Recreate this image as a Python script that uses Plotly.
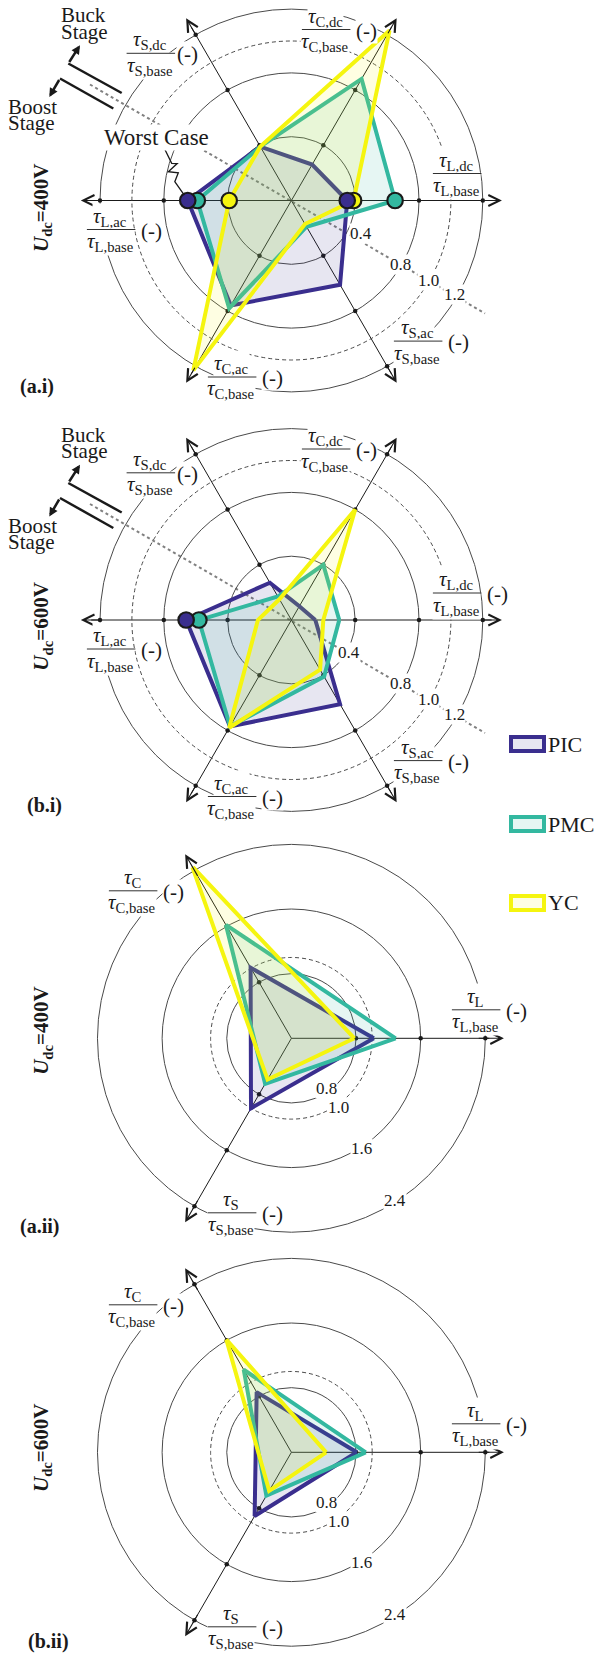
import numpy as np
import plotly.graph_objects as go

W, H = 597, 1654
FONT = "Liberation Serif, Times New Roman, serif"
INK = "#1a1a1a"

# ---------------- data ----------------
HEX_AXES = ["L,dc", "C,dc", "S,dc", "L,ac", "C,ac", "S,ac"]
TRI_AXES = ["L", "C", "S"]
SERIES = ["PIC", "PMC", "YC"]
LINE_COLORS = ["#3a2e8e", "#33b8a0", "#f5f50f"]

A_I_PIC = [0.35, 0.26, 0.39, 0.65, 0.76, 0.61]
A_I_PMC = [0.65, 0.88, 0.39, 0.59, 0.78, 0.19]
A_I_YC = [0.39, 1.23, 0.39, 0.39, 1.23, 0.17]

B_I_PIC = [0.15, 0.10, 0.27, 0.66, 0.77, 0.61]
B_I_PMC = [0.30, 0.40, 0.17, 0.58, 0.77, 0.41]
B_I_YC = [0.20, 0.80, 0.15, 0.21, 0.78, 0.36]

A_II_PIC = [1.02, 1.01, 1.00]
A_II_PMC = [1.29, 1.62, 0.65]
A_II_YC = [0.78, 2.46, 0.59]

B_II_PIC = [0.81, 0.86, 0.91]
B_II_PMC = [0.92, 1.18, 0.62]
B_II_YC = [0.43, 1.61, 0.55]

HEX_GRID = [0.4, 0.8, 1.2]
TRI_GRID = [0.8, 1.6, 2.4]
DASHED_GRID = [1.0]
HEX_RING_LABELS = ["0.4", "0.8", "1.0", "1.2"]
TRI_RING_LABELS = ["0.8", "1.0", "1.6", "2.4"]

A_I_MARKED = [("YC", ["L,dc", "L,ac"]), ("PMC", ["L,dc", "L,ac"]), ("PIC", ["L,dc", "L,ac"])]
B_I_MARKED = [("PMC", ["L,ac"]), ("PIC", ["L,ac"])]

# ---------------- layout helpers ----------------
HEX_LABEL_POS = {"L,dc": (165, -27), "C,dc": (34, -171), "S,dc": (-141.3, -147.2),
                 "L,ac": (-181, 29), "C,ac": (-60, 176.5), "S,ac": (126, 140.6)}
TRI_LABEL_POS = {"L": (184, -28.5), "C": (-159, -147.5), "S": (-60, 174.5)}

CHARTS = [
    dict(kind="hex", c=(291.4, 200.5), s=159.5, rmax=1.255, rtip=1.32, rtail=1.2,
         vals=[A_I_PIC, A_I_PMC, A_I_YC], marked=A_I_MARKED, volt="400V", vy=208,
         panel="(a.i)", px=19, py=386.7, ldc_unit=False,
         ring_pos=[(69.2, 33), (109, 63.5), (136.6, 79.8), (163.3, 94)], worst=True),
    dict(kind="hex", c=(291.4, 620.0), s=159.5, rmax=1.255, rtip=1.32, rtail=1.2,
         vals=[B_I_PIC, B_I_PMC, B_I_YC], marked=B_I_MARKED, volt="600V", vy=626.7,
         panel="(b.i)", px=26, py=805, ldc_unit=True,
         ring_pos=[(57.6, 32.7), (109, 63.5), (136.6, 79.8), (163.3, 94)], worst=False),
    dict(kind="tri", c=(291.4, 1038.3), s=80.8, rmax=2.45, rtip=2.63, rtail=2.3,
         vals=[A_II_PIC, A_II_PMC, A_II_YC], marked=[], volt="400V", vy=1030.8,
         panel="(a.ii)", px=19, py=1226.7,
         ring_pos=[(35.2, 49.7), (46.6, 69.3), (69.6, 109.7), (104, 161.7)], worst=False),
    dict(kind="tri", c=(291.4, 1452.3), s=80.8, rmax=2.45, rtip=2.63, rtail=2.3,
         vals=[B_II_PIC, B_II_PMC, B_II_YC], marked=[], volt="600V", vy=1448,
         panel="(b.ii)", px=27, py=1641.7,
         ring_pos=[(35.2, 49.7), (46.6, 69.3), (69.6, 109.7), (104, 161.7)], worst=False),
]

annotations = []
shapes = []


def P(x, y):
    return x / W, 1 - y / H


def text(x, y, s, size=20, xanchor="center", yanchor="middle", bg=None, angle=0):
    px_, py_ = P(x, y)
    a = dict(x=px_, y=py_, xref="paper", yref="paper", text=s, showarrow=False,
             font=dict(family=FONT, size=size, color=INK), xanchor=xanchor,
             yanchor=yanchor, textangle=angle, borderpad=0)
    if bg:
        a["bgcolor"] = bg
    annotations.append(a)


def arrow(tipx, tipy, tailx, taily, head=5, size=2.0, width=1.1):
    px_, py_ = P(tipx, tipy)
    annotations.append(dict(x=px_, y=py_, xref="paper", yref="paper",
                            ax=tailx - tipx, ay=taily - tipy, axref="pixel", ayref="pixel",
                            showarrow=True, arrowhead=head, arrowsize=size, arrowwidth=width,
                            arrowcolor=INK, text="", standoff=0, startstandoff=0))


def seg(x0, y0, x1, y1, width=1.0, color=INK, dash=None, layer="above"):
    a0, b0 = P(x0, y0)
    a1, b1 = P(x1, y1)
    d = dict(type="line", xref="paper", yref="paper", x0=a0, y0=b0, x1=a1, y1=b1,
             line=dict(color=color, width=width), layer=layer)
    if dash:
        d["line"]["dash"] = dash
    shapes.append(d)


def frac(cx, cy, num, den, unit=True, unit_dx=41):
    text(cx, cy - 13, num, size=21, bg="white")
    text(cx, cy + 12.5, den, size=21, bg="white")
    if unit:
        text(cx + unit_dx, cy + 1, "(-)", size=21, bg="white")
    arrow(cx + 25, cy, cx - 25, cy, head=0, width=0.9)


def rgba(hexcol, a):
    h = hexcol.lstrip("#")
    r, g, b = int(h[0:2], 16), int(h[2:4], 16), int(h[4:6], 16)
    return f"rgba({r},{g},{b},{a})"


fig = go.Figure()
layout_polars = {}

for k, ch in enumerate(CHARTS):
    cx, cy = ch["c"]
    s = ch["s"]
    axes = HEX_AXES if ch["kind"] == "hex" else TRI_AXES
    grid = HEX_GRID if ch["kind"] == "hex" else TRI_GRID
    n = len(axes)
    angles = [i * 360.0 / n for i in range(n)]
    R = ch["rmax"] * s
    dom = dict(x=[(cx - R) / W, (cx + R) / W], y=[1 - (cy + R) / H, 1 - (cy - R) / H])
    base_id = "polar" if k == 0 else f"polar{2 * k + 1}"
    data_id = f"polar{2 * k + 2}"

    layout_polars[base_id] = dict(
        domain=dom, bgcolor="rgba(0,0,0,0)",
        radialaxis=dict(range=[0, ch["rmax"]], tickmode="array", tickvals=grid,
                        showticklabels=False, ticks="", showline=False, showgrid=True,
                        gridcolor="#4a4a4a", gridwidth=0.8, layer="below traces"),
        angularaxis=dict(tickmode="array", tickvals=angles, showticklabels=False, ticks="",
                         showline=False, showgrid=True, gridcolor=INK, gridwidth=1.1,
                         rotation=0, direction="counterclockwise", layer="below traces"))
    layout_polars[data_id] = dict(
        domain=dom, bgcolor="rgba(0,0,0,0)",
        radialaxis=dict(range=[0, ch["rmax"]], tickmode="array", tickvals=DASHED_GRID,
                        showticklabels=False, ticks="", showline=False, showgrid=True,
                        gridcolor="#4a4a4a", gridwidth=0.8, griddash="4px,3px",
                        layer="below traces"),
        angularaxis=dict(tickmode="array", tickvals=angles, showticklabels=False, ticks="",
                         showline=False, showgrid=False, rotation=0,
                         direction="counterclockwise", layer="below traces"))

    # axis tick dots
    fig.add_trace(go.Scatterpolar(
        r=np.tile(grid, n), theta=np.repeat(angles, len(grid)), mode="markers",
        marker=dict(size=4.5, color=INK), subplot=base_id, showlegend=False,
        hoverinfo="skip"))

    # series polygons
    for name, col, vals in zip(SERIES, LINE_COLORS, ch["vals"]):
        fig.add_trace(go.Scatterpolar(
            r=list(vals) + [vals[0]], theta=angles + [angles[0]], mode="lines",
            fill="toself", fillcolor=rgba(col, 0.12),
            line=dict(color=col, width=4), name=name, subplot=data_id,
            showlegend=False, hoverinfo="skip"))

    # worst-case markers
    for name, axlist in ch["marked"]:
        idx = SERIES.index(name)
        vals = ch["vals"][idx]
        fig.add_trace(go.Scatterpolar(
            r=[vals[axes.index(a)] for a in axlist],
            theta=[angles[axes.index(a)] for a in axlist], mode="markers",
            marker=dict(size=15.5, color=LINE_COLORS[idx], line=dict(color=INK, width=2.2)),
            subplot=data_id, showlegend=False, hoverinfo="skip"))

    # axis arrows
    for ang in angles:
        t = np.deg2rad(ang)
        tip = (cx + ch["rtip"] * s * np.cos(t), cy - ch["rtip"] * s * np.sin(t))
        tail = (cx + ch["rtail"] * s * np.cos(t), cy - ch["rtail"] * s * np.sin(t))
        arrow(tip[0], tip[1], tail[0], tail[1], head=5, size=2.0, width=1.1)

    # ring labels
    ring_labels = HEX_RING_LABELS if ch["kind"] == "hex" else TRI_RING_LABELS
    for lab, (dx, dy) in zip(ring_labels, ch["ring_pos"]):
        text(cx + dx, cy + dy, lab, size=17, bg="white")

    # axis labels
    if ch["kind"] == "hex":
        for a in HEX_AXES:
            dx, dy = HEX_LABEL_POS[a]
            comp = a.split(",")[0]
            unit = True
            if a == "L,dc" and not ch["ldc_unit"]:
                unit = False
            frac(cx + dx, cy + dy, f"<i>τ</i><sub>{a}</sub>", f"<i>τ</i><sub>{comp},base</sub>",
                 unit=unit, unit_dx=37 if a == "S,dc" else 41)
        # buck / boost separator
        seg(cx - 201.4, cy - 116, cx + 193.6, cy + 113, width=2, color="#808080",
            dash="dot", layer="below")
        seg(cx - 223.1, cy - 137, cx - 169.7, cy - 107.5, width=2.5)
        seg(cx - 231.4, cy - 122, cx - 178.1, cy - 92, width=2.5)
        arrow(cx - 211.4, cy - 155.3, cx - 223.1, cy - 137, head=2, size=0.7, width=2.5)
        arrow(cx - 242.1, cy - 103.6, cx - 231.4, cy - 122, head=2, size=0.7, width=2.5)
        text(cx - 231.4, cy - 185.3, "Buck", size=21, xanchor="left")
        text(cx - 231.4, cy - 168.6, "Stage", size=21, xanchor="left")
        text(cx - 284.1, cy - 93.6, "Boost", size=21, xanchor="left")
        text(cx - 284.1, cy - 77.6, "Stage", size=21, xanchor="left")
    else:
        for a in TRI_AXES:
            dx, dy = TRI_LABEL_POS[a]
            frac(cx + dx, cy + dy, f"<i>τ</i><sub>{a}</sub>", f"<i>τ</i><sub>{a},base</sub>")

    if ch["worst"]:
        text(cx - 134.7, cy - 62.6, "Worst Case", size=23, bg="white")
        pts = [(164.3, 148.3), (171.7, 163.3), (177.2, 163.5), (168.3, 171.7),
               (178.3, 172.8), (174.8, 181.7), (184.3, 195)]
        path = "M " + " L ".join(f"{P(x, y)[0]:.5f},{P(x, y)[1]:.5f}" for x, y in pts)
        shapes.append(dict(type="path", xref="paper", yref="paper", path=path,
                           line=dict(color=INK, width=1.3), layer="above"))

    # side voltage label & panel label
    text(42, ch["vy"], f"<b><i>U</i><sub>dc</sub>=" + ch["volt"] + "</b>", size=21, angle=-90)
    text(ch["px"], ch["py"], f"<b>{ch['panel']}</b>", size=20, xanchor="left")

# legend (drawn manually)
LEGEND_Y = [744, 824, 903]
for name, col, ly in zip(SERIES, LINE_COLORS, LEGEND_Y):
    a0, b0 = P(511, ly - 7)
    a1, b1 = P(544, ly + 7)
    shapes.append(dict(type="rect", xref="paper", yref="paper", x0=a0, y0=b0, x1=a1, y1=b1,
                       line=dict(color=col, width=4), fillcolor=rgba(col, 0.12), layer="above"))
    text(547, ly, name, size=22, xanchor="left")

fig.update_layout(
    width=W, height=H, margin=dict(l=0, r=0, t=0, b=0),
    paper_bgcolor="white", plot_bgcolor="white", showlegend=False,
    annotations=annotations, shapes=shapes, **layout_polars)

fig.write_html("out.html", config={"displayModeBar": False},
               post_script="document.body.style.margin='0px';document.body.style.padding='0px';")
